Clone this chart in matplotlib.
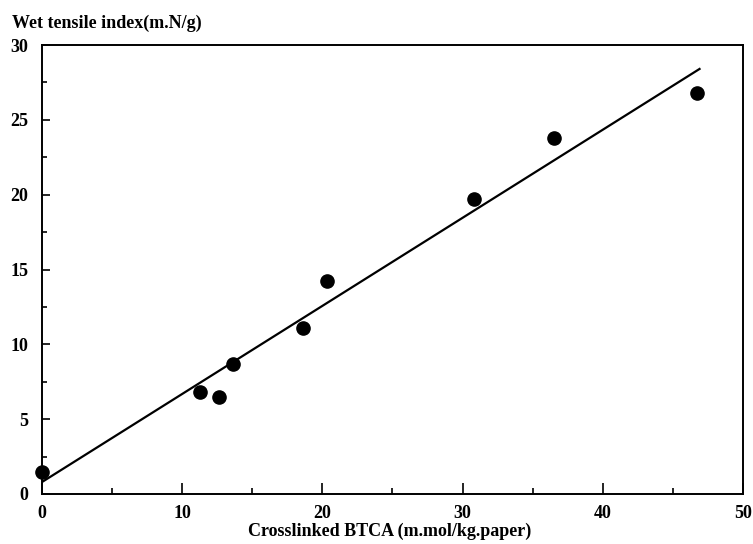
import matplotlib
matplotlib.use("Agg")
import matplotlib.pyplot as plt
from matplotlib.ticker import MultipleLocator

# Data
btca = [0, 11.3, 12.6, 13.6, 18.6, 20.3, 30.8, 36.5, 46.7]
wet_tensile = [1.5, 6.8, 6.5, 8.7, 11.1, 14.2, 19.7, 23.8, 26.8]
fit_x = [0, 46.9]
fit_y = [0.8, 28.4]

x_ticks = [0, 10, 20, 30, 40, 50]
y_ticks = [0, 5, 10, 15, 20, 25, 30]

plt.rcParams['font.family'] = ['Liberation Serif', 'DejaVu Serif']
plt.rcParams['font.weight'] = 'bold'

W, H = 753, 544
fig = plt.figure(figsize=(W / 100, H / 100), dpi=100)
ax = fig.add_axes([42 / W, 1 - 494 / H, (743 - 42) / W, (494 - 45) / H])

ax.plot(fit_x, fit_y, color='black', lw=1.6, zorder=2)
ax.plot(btca, wet_tensile, 'o', color='black', ms=9.5, zorder=3, clip_on=False)

ax.set_xlim(0, 50)
ax.set_ylim(0, 30)
ax.set_xticks(x_ticks)
ax.set_yticks(y_ticks)
ax.xaxis.set_minor_locator(MultipleLocator(5))
ax.yaxis.set_minor_locator(MultipleLocator(2.5))

for s in ax.spines.values():
    s.set_linewidth(1.4)

ax.tick_params(axis='x', which='major', direction='in', length=8, width=1.2,
               labelsize=13, pad=8)
ax.tick_params(axis='x', which='minor', direction='in', length=4, width=1.2)
ax.tick_params(axis='y', which='major', direction='in', length=6, width=1.2,
               labelsize=13, pad=10)
ax.tick_params(axis='y', which='minor', direction='in', length=3.5, width=1.2)
for lab in ax.get_xticklabels() + ax.get_yticklabels():
    lab.set_fontweight('bold')

fig.text(12 / W, 1 - 23 / H, 'Wet tensile index(m.N/g)', ha='left', va='center',
         fontsize=13, fontweight='bold')
fig.text(390 / W, 1 - 531 / H, 'Crosslinked BTCA (m.mol/kg.paper)', ha='center',
         va='center', fontsize=13, fontweight='bold')

fig.savefig('out.png', dpi=100)
